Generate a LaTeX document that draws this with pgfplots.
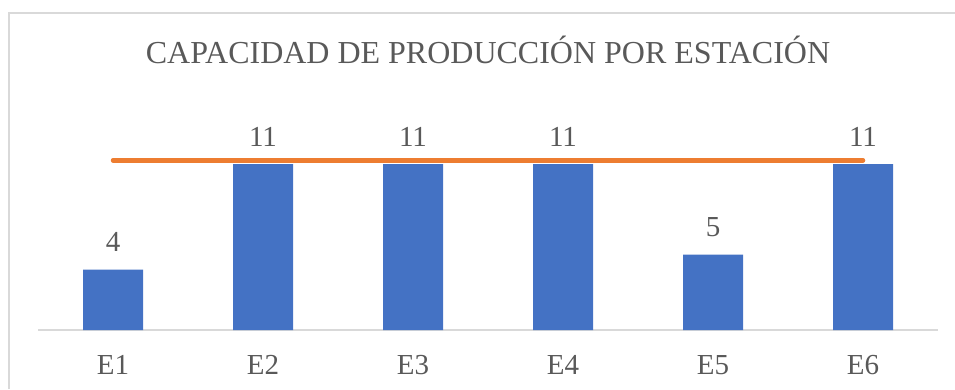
\documentclass[border=0pt]{standalone}
\usepackage{pgfplots}
\pgfplotsset{compat=1.18}
\usepackage{fontspec}
\setmainfont{Liberation Serif}
\definecolor{barblue}{HTML}{4472C4}
\definecolor{lineorange}{HTML}{ED7D31}
\definecolor{txtgray}{HTML}{595959}
\definecolor{axgray}{HTML}{D9D9D9}
\begin{document}
\begin{tikzpicture}[x=1bp,y=1bp]
\path[use as bounding box] (0,0) rectangle (955,389);
\draw[axgray, line width=1.2bp] (9,0) -- (9,376) -- (955,376);
\node[txtgray, font=\fontsize{32bp}{38bp}\selectfont, anchor=base] at (488,326) {CAPACIDAD DE PRODUCCIÓN POR ESTACIÓN};
\begin{axis}[
  at={(38bp,59bp)}, anchor=south west,
  scale only axis, width=900bp, height=181bp,
  xmin=-0.5, xmax=5.5, ymin=0, ymax=12,
  axis x line=bottom, axis y line=none,
  axis line style={axgray, line width=1.5bp, -},
  xtick={0,1,2,3,4,5},
  xticklabels={E1,E2,E3,E4,E5,E6},
  major tick length=0pt,
  xticklabel style={txtgray, font=\fontsize{29bp}{35bp}\selectfont, anchor=north, inner sep=0pt, yshift=-25bp},
  ytick=\empty,
  /pgf/number format/assume math mode=true,
  clip=false,
]
\addplot[ybar, bar width=60bp, fill=barblue, draw=none,
  nodes near coords,
  every node near coord/.append style={txtgray, font=\fontsize{29bp}{35bp}\selectfont, anchor=base, inner sep=0pt, yshift=18bp}]
  coordinates {(0,4) (1,11) (2,11) (3,11) (4,5) (5,11)};
\addplot[lineorange, line width=4.5bp, line cap=round, mark=none]
  coordinates {(0,11.25) (1,11.25) (2,11.25) (3,11.25) (4,11.25) (5,11.25)};
\end{axis}
\end{tikzpicture}
\end{document}
